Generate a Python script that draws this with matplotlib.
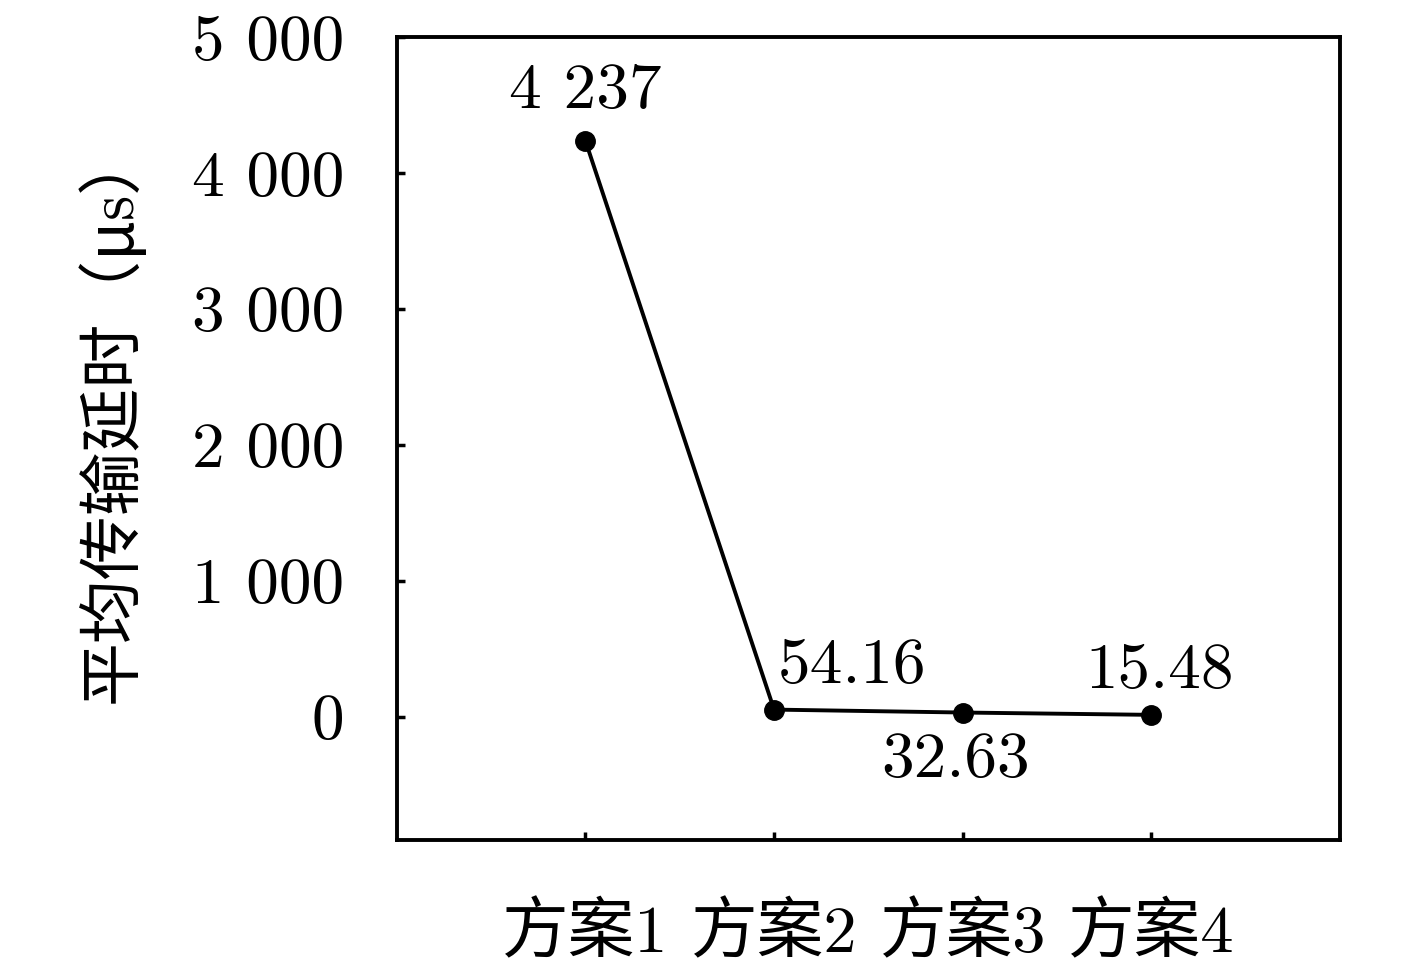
import matplotlib
matplotlib.use("Agg")
import matplotlib.pyplot as plt

# data
schemes = ["方案1", "方案2", "方案3", "方案4"]
delays = [4237, 54.16, 32.63, 15.48]
delay_labels = ["4 237", "54.16", "32.63", "15.48"]
y_ticks = [0, 1000, 2000, 3000, 4000, 5000]
y_tick_labels = ["0", "1 000", "2 000", "3 000", "4 000", "5 000"]

plt.rcParams["font.family"] = ["cmr10", "Noto Sans CJK SC", "DejaVu Sans"]
plt.rcParams["axes.unicode_minus"] = False

fig = plt.figure(figsize=(14.17, 9.67), dpi=100)
ax = fig.add_axes([0.280, 0.1313, 0.6657, 0.8304])

x = list(range(1, len(schemes) + 1))
ax.plot(x, delays, color="black", lw=2.8, marker="o", ms=14)

# value labels, placed by hand like the original
offsets = [(0, 14, "center", "bottom"), (3, 10, "left", "bottom"),
           (-5, -14, "center", "top"), (6, 10, "center", "bottom")]
for xi, yi, lab, (dx, dy, ha, va) in zip(x, delays, delay_labels, offsets):
    ax.annotate(lab, (xi, yi), xytext=(dx, dy), textcoords="offset points",
                ha=ha, va=va, fontsize=47)

ax.set_xlim(0, 5)
ax.set_ylim(-905, 5000)
ax.set_xticks(x)
ax.set_xticklabels(schemes, fontsize=48)
ax.set_yticks(y_ticks)
ax.set_yticklabels(y_tick_labels, fontsize=47)
ax.tick_params(direction="in", length=6, width=2.5)
ax.tick_params(axis="y", pad=38)
ax.tick_params(axis="x", pad=45)
ax.set_ylabel("平均传输延时（μs）", fontsize=46)
ax.yaxis.set_label_coords(-0.268, 0.53)

for s in ax.spines.values():
    s.set_linewidth(2.8)

fig.savefig("out.png", dpi=100)
